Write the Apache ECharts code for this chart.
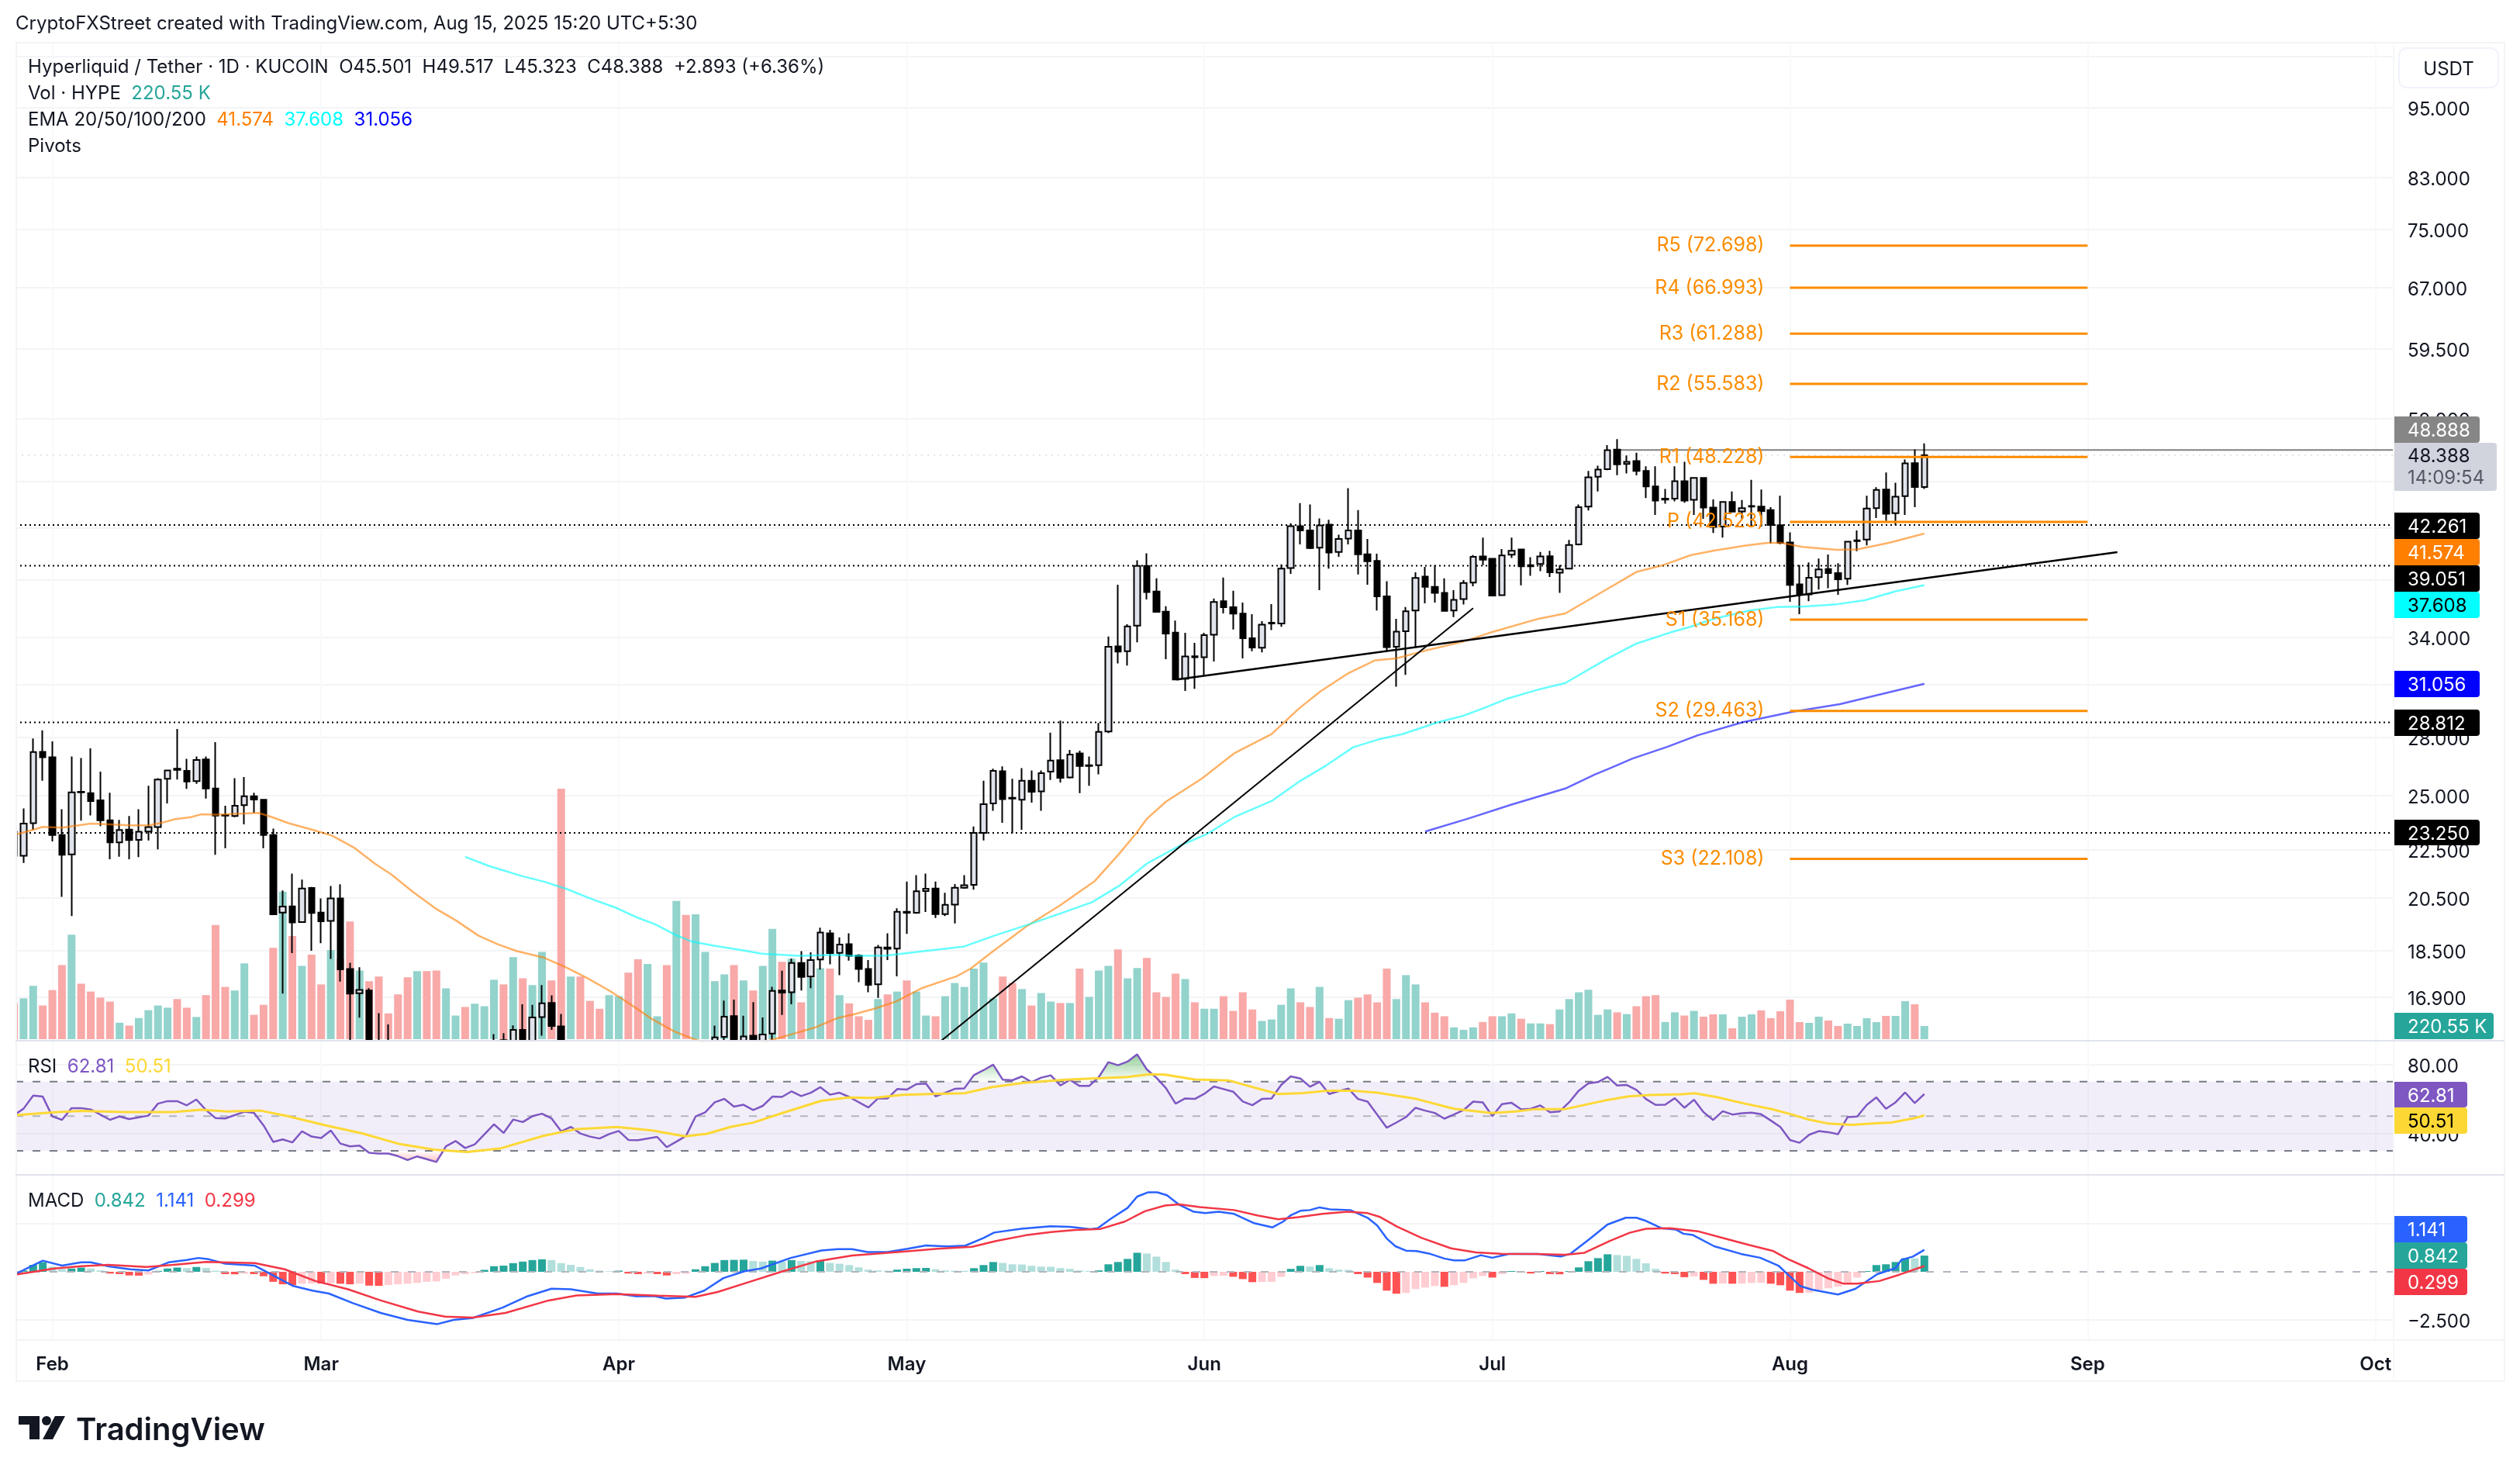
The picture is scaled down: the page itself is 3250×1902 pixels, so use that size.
<!DOCTYPE html>
<html>
<head>
<meta charset="utf-8">
<title>HYPE/USDT</title>
<script src="https://cdn.jsdelivr.net/npm/echarts@6/dist/echarts.min.js"></script>
<style>
html, body { margin: 0; padding: 0; background: #fff; }
#chart { width: 3250px; height: 1902px; }
</style>
</head>
<body>
<div id="chart"></div>
<script>
// day numbers count from Feb 1 2025 = 0, the first candle is Jan 28
const firstDay = -4;
const monthDays = [0, 28, 59, 89, 120, 150, 181, 212, 242];
const monthNames = ['Feb', 'Mar', 'Apr', 'May', 'Jun', 'Jul', 'Aug', 'Sep', 'Oct'];

const priceTicks = [105, 95, 83, 75, 67, 59.5, 52, 46, 42, 38, 34, 31, 28, 25, 22.5, 20.5, 18.5, 16.9];
const rsiTicks = [80, 40];
const macdTicks = [2.5, -2.5];

// open, close, low, high
const candles = [
  // Jan
  [23.31,22.24,22.2,23.4],[22.24,23.67,21.93,24.38],[23.69,27.2,23.39,27.93],[27.21,26.92,25.73,28.37],
  // Feb
  [26.92,23.15,22.87,27.77],[23.15,22.28,20.53,24.34],[22.3,25.15,19.78,26.97],[25.18,25.15,23.81,26.88],
  [25.11,24.73,24.05,27.39],[24.77,23.82,23.56,26.18],[23.82,22.82,22.09,25.13],[22.82,23.38,22.2,23.84],
  [23.4,22.93,22.09,24.02],[22.94,23.3,22.18,24.34],[23.31,23.51,22.91,25.48],[23.51,25.78,22.52,25.85],
  [25.82,26.24,24.62,26.27],[26.33,26.27,25.78,28.45],[26.22,25.69,25.32,26.84],[25.71,26.78,25.57,26.97],
  [26.81,25.34,24.85,26.97],[25.34,24.04,22.28,27.73],[24.07,24.04,22.57,24.51],[24.02,24.51,23.97,25.85],
  [24.53,24.96,23.64,25.91],[24.96,24.8,24.17,25.13],[24.79,23.15,22.57,24.82],[23.15,19.85,19.82,23.44],
  [19.92,20.15,17.02,20.79],[20.16,19.54,18.41,21.48],[19.55,20.87,19.54,21.23],[20.89,19.9,18.49,20.93],
  // Mar
  [19.92,19.58,18.77,20.47],[19.6,20.47,18.2,20.97],[20.47,17.84,17.42,21.04],[17.85,17.02,15.3,18.07],
  [17.03,17.14,16.24,17.91],[17.12,15.0,14.6,17.2],[15.2,14.5,14.0,16.38],[14.6,14.2,13.6,16.03],
  [14.2,13.0,12.6,14.5],[13.0,12.2,11.6,13.5],[12.2,13.2,11.9,13.6],[13.6,13.3,12.9,14.0],
  [13.6,13.2,13.0,14.1],[13.2,14.0,13.0,14.4],[13.7,14.0,13.4,14.4],[14.0,13.3,13.0,14.1],
  [13.3,14.1,13.2,14.5],[14.1,14.6,13.8,15.0],[14.6,15.2,14.4,15.73],[15.55,15.1,14.8,15.76],
  [15.1,15.86,14.9,16.0],[15.86,15.0,14.7,16.67],[15.0,16.25,14.9,16.65],[16.26,16.7,15.68,17.3],
  [16.71,15.98,15.86,16.96],[15.97,15.0,14.7,16.36],[15.0,15.3,14.6,15.4],[15.3,14.2,14.0,15.4],
  [14.2,13.7,13.5,14.5],[13.7,13.4,13.2,14.0],[13.4,13.9,13.2,14.2],
  // Apr
  [13.9,14.3,13.7,14.7],[14.3,13.8,13.5,14.8],[13.8,13.0,12.8,14.0],[13.0,13.6,12.7,13.9],
  [13.6,13.9,13.3,14.1],[13.9,12.6,12.3,14.0],[12.6,13.2,11.8,13.6],[13.2,12.4,12.2,13.7],
  [12.4,14.2,12.1,14.5],[14.2,14.8,14.0,15.2],[14.8,15.63,14.5,15.99],[15.65,16.27,15.5,16.79],
  [16.29,15.3,15.0,16.82],[15.3,15.66,15.1,16.3],[15.68,15.2,15.0,16.74],[15.2,15.72,15.1,16.25],
  [15.75,17.11,15.53,17.24],[17.12,17.05,16.33,17.79],[17.06,18.06,16.67,18.22],[18.06,17.58,17.12,18.48],
  [17.59,18.16,17.2,18.44],[18.18,19.16,17.83,19.34],[19.13,18.41,18.01,19.26],[18.42,18.72,17.64,18.98],
  [18.73,18.31,18.14,19.13],[18.32,17.85,17.4,18.37],[17.85,17.31,17.06,18.16],[17.33,18.61,16.88,18.7],
  [18.61,18.56,18.16,19.13],[18.57,19.95,17.6,20.08],
  // May
  [19.95,19.91,19.11,21.15],[19.91,20.76,19.87,21.42],[20.77,20.86,19.94,21.48],[20.87,19.86,19.71,21.15],
  [19.86,20.22,19.78,20.7],[20.23,20.9,19.5,21.05],[20.9,21.0,20.86,21.42],[21.02,23.25,20.82,23.54],
  [23.25,24.58,22.91,25.73],[24.62,26.22,24.27,26.33],[26.2,24.82,23.71,26.45],[24.89,24.85,23.23,25.82],
  [24.79,25.73,23.39,26.36],[25.73,25.18,24.65,26.24],[25.2,26.11,24.27,26.24],[26.18,26.75,25.76,28.24],
  [26.77,25.87,25.64,28.91],[25.89,27.07,25.84,27.31],[27.13,26.47,25.11,27.27],[26.47,26.51,25.48,26.97],
  [26.51,28.28,26.05,28.78],[28.31,33.37,28.22,34.04],[33.39,33.06,32.3,37.64],[33.08,34.71,32.17,34.86],
  [34.76,39.04,33.66,39.47],[39.04,37.1,36.58,40.0],[37.15,35.7,35.65,38.11],[35.72,34.23,32.57,36.1],
  [34.3,31.31,31.28,35.11],[31.36,32.74,30.62,34.28],[32.76,32.7,30.75,33.62],
  // Jun
  [32.7,34.13,31.53,34.28],[34.16,36.4,32.42,36.65],[36.45,36.03,35.6,38.16],[36.03,35.58,34.5,37.2],
  [35.58,33.92,32.62,36.35],[33.92,33.32,33.08,35.55],[33.3,34.83,33.0,35.06],[34.91,34.96,34.47,36.25],
  [34.91,38.83,34.68,39.15],[38.88,42.17,38.44,42.4],[42.17,41.82,40.71,44.1],[41.82,40.42,40.34,43.98],
  [40.45,42.23,37.25,42.8],[42.29,40.06,38.83,42.7],[40.11,41.14,39.73,41.47],[41.17,41.82,40.71,45.4],
  [41.82,39.93,38.39,43.5],[39.93,39.39,37.64,41.14],[39.42,36.8,35.8,39.98],[36.8,33.34,33.1,37.9],
  [33.37,34.36,30.88,35.23],[34.39,35.75,31.6,36.05],[35.8,38.14,33.34,38.55],[38.24,37.48,36.3,38.96],
  [37.48,37.05,36.35,39.1],[37.05,35.77,35.72,38.11],[35.8,36.55,35.35,37.25],[36.6,37.77,36.22,37.98],
  [37.8,39.73,37.53,39.87],[39.76,39.51,39.1,41.24],
  // Jul
  [39.59,36.85,36.8,39.65],[36.88,39.84,36.85,40.34],[39.9,40.2,39.65,41.24],[40.31,39.01,37.59,40.34],
  [39.01,39.1,38.3,39.7],[39.18,39.76,38.64,40.11],[39.78,38.55,38.21,40.2],[38.53,38.77,37.05,39.1],
  [38.83,40.65,38.8,41.05],[40.71,43.76,40.62,43.98],[43.8,46.36,43.47,46.94],[46.41,47.06,45.1,47.42],
  [47.11,48.87,47.02,49.36],[48.92,47.54,46.55,49.94],[47.59,47.78,46.72,48.37],[47.85,46.94,46.53,48.63],
  [46.94,45.55,44.53,47.37],[45.55,44.31,43.1,47.37],[44.4,44.49,44.05,45.32],[44.49,46.01,44.25,47.37],
  [46.01,44.31,44.14,47.78],[44.38,46.31,43.1,46.35],[46.31,43.72,42.78,46.35],[43.72,42.11,41.61,44.42],
  [42.13,44.2,41.24,44.27],[44.2,43.38,43.35,45.1],[43.4,43.67,42.78,44.36],[43.8,43.85,42.17,46.13],
  [43.8,43.42,42.13,45.28],[43.51,42.26,40.78,43.76],[42.24,40.82,40.72,44.74],
  // Aug
  [40.86,37.63,36.41,41.67],[37.66,36.91,35.55,39.11],[36.93,38.15,36.45,39.3],[38.19,38.77,37.29,39.6],
  [38.81,38.5,37.38,39.91],[38.5,38.04,36.91,39.24],[38.08,40.92,37.63,40.96],[40.96,41.02,40.17,41.82],
  [41.08,43.63,40.63,44.74],[43.67,45.25,42.84,45.48],[45.28,43.2,42.6,46.8],[43.24,44.65,42.24,45.88],
  [44.7,47.63,43.1,48.0],[47.66,45.5,43.76,48.95],[45.501,48.388,45.323,49.517]
];

// thousands of HYPE, one per candle
const volumes = [
  606,684,894,564,
  822,1242,1752,930,798,696,630,276,228,354,486,564,528,672,528,372,738,1914,876,816,1272,408,576,1530,2472,1728,1230,1416,
  918,1494,1350,1974,1152,972,1050,432,750,1038,1140,1140,1152,852,396,540,594,552,996,918,1374,1020,906,1464,984,4200,1050,1050,642,510,738,
  720,1116,1338,1260,384,1242,2316,2082,2094,1464,972,1086,1242,984,816,1230,1848,1296,1350,618,1026,1188,1182,738,600,384,324,672,750,798,
  984,798,396,384,720,942,876,1182,1284,684,1050,942,840,564,774,630,606,606,1182,708,1152,1230,1506,1020,1194,1362,786,708,1098,1008,618,
  510,510,720,474,786,498,306,330,576,852,618,540,876,354,342,654,696,750,618,1182,672,1074,918,618,444,384,198,156,198,288,
  384,384,432,342,264,264,252,498,672,786,828,408,498,450,420,552,720,738,288,450,396,474,377,416,416,182,377,416,481,351,468,
  663,286,273,377,312,221,260,221,351,286,390,390,637,585,220.55
];

// [day, value]
const emaOrange = [[-3.75,23.18],[-2,23.39],[-1,23.52],[1,23.49],[3,23.61],[4,23.67],[6,23.64],[8,23.59],[10,23.59],[11.5,23.72],[12.7,23.87],[14.4,23.97],[15.5,24.1],[17,24.09],[18.9,24.12],[21.5,24.17],[22.9,23.97],[24.6,23.69],[27.1,23.39],[29.1,23.13],[31.4,22.6],[33.6,21.9],[35.3,21.45],[37.6,20.72],[39.9,20.08],[42.1,19.6],[44.4,19.04],[46.4,18.73],[48.4,18.48],[51.2,18.25],[53.5,17.91],[55.7,17.54],[58,17.12],[60.3,16.65],[62.5,16.19],[64.8,15.81],[67,15.56],[71,15.2],[75,15.56],[77.3,15.75],[79.5,15.94],[81.8,16.23],[83.4,16.34],[85.7,16.53],[87.9,16.76],[90.5,17.19],[94.2,17.6],[95.6,17.85],[98,18.48],[101.5,19.4],[104.9,20.18],[108.6,21.18],[111.2,22.36],[112.9,23.23],[114,23.89],[116,24.7],[119.7,25.82],[123.1,27.13],[127,28.16],[129.9,29.62],[132.1,30.6],[135,31.7],[137.8,32.5],[140,32.62],[142.9,33.1],[146.9,33.69],[149.7,34.28],[154.8,35.23],[157.6,35.6],[161.9,37.3],[165,38.58],[167.8,39.1],[170.7,39.87],[173.2,40.23],[176.5,40.62],[178.7,40.83],[180.1,40.82],[182.3,40.51],[185.9,40.27],[188,40.31],[191.3,40.83],[195,41.574]];
const emaCyan = [[43,22.19],[45.5,21.8],[48.9,21.38],[51.2,21.15],[53.5,20.86],[56.3,20.43],[58.6,20.12],[61.1,19.7],[62.8,19.47],[64.8,19.09],[66.5,18.84],[68.8,18.68],[71.6,18.53],[73.9,18.39],[77.8,18.31],[81.8,18.35],[83.4,18.31],[86.8,18.32],[90.8,18.48],[95,18.65],[98.1,19.04],[101.5,19.44],[104.9,19.87],[108.3,20.32],[111.2,21],[114,21.9],[117.4,22.67],[120.2,23.18],[123.1,23.97],[127,24.73],[129.9,25.69],[132.7,26.5],[135.5,27.45],[138.1,27.87],[140.6,28.16],[144.3,28.81],[146.9,29.17],[149.1,29.62],[151.4,30.14],[154.8,30.71],[157.6,31.1],[161.9,32.58],[165,33.57],[168.4,34.28],[170.7,34.7],[173.2,35.25],[176.8,35.8],[179.7,36.05],[182.6,36.09],[185.9,36.24],[188.8,36.52],[192,37.16],[195,37.608]];
const emaBlue = [[143,23.31],[147.4,23.89],[152,24.56],[157.6,25.34],[160.6,26.02],[162.4,26.39],[164.6,26.86],[168.2,27.47],[171.4,28.1],[176.1,28.82],[179,29.15],[181.2,29.4],[186.2,29.85],[191.3,30.54],[195,31.056]];

const pivotNames = ['R5', 'R4', 'R3', 'R2', 'R1', 'P', 'S1', 'S2', 'S3'];
const pivotValues = [72.698, 66.993, 61.288, 55.583, 48.228, 42.523, 35.168, 29.463, 22.108];
const pivotSpan = [181, 212];

const dottedLevels = [42.261, 39.051, 28.812, 23.25];
const lastClose = 48.388;
const prevHigh = 48.888;
const prevHighFrom = 163;

const trendSteep = [[92.6, 15.53], [148, 35.96]];
const trendFlat = [[117.1, 31.31], [215.1, 40.09]];

const rsiLine = [[-4,50.6],[-3,54.35],[-2,61.94],[-1,61.3],[0,49.84],[1,47.9],[2,54.68],[3,54.68],[4,53.87],[6,47.9],[7,49.84],[8,48.39],[10,50.32],[11,57.26],[12,58.71],[13,58.71],[14,56.29],[15,59.68],[16,53.55],[17,48.87],[18,48.71],[20,52.58],[21,51.94],[22,44.68],[23,35.16],[24,36.61],[25,34.84],[26,41.29],[27,38.23],[28,37.42],[29,41.77],[30,34.19],[31,32.58],[32,33.06],[33,28.87],[34,28.39],[35,28.39],[36,26.94],[37,24.68],[38,26.77],[39,25.16],[40,23.55],[41,32.58],[42,35.65],[43,31.61],[44,33.71],[46,45.32],[47,40.32],[48,48.06],[49,46.61],[50,50],[51,51.45],[52,48.71],[53,41.29],[54,43.87],[55,40],[56,38.23],[57,37.1],[58,39.68],[59,41.45],[60,36.29],[61,36.13],[63,38.06],[64,32.1],[65,35.3],[66,38.55],[67,49.84],[68,52.26],[69,58.06],[70,60],[71,55.48],[72,56.61],[73,53.55],[74,55.97],[75,61.29],[76,61.13],[77,64.35],[78,61.61],[79,63.55],[80,66.77],[81,62.42],[82,63.55],[83,61.13],[85,55.02],[86,60.26],[87,60.26],[88,65.66],[89,65.36],[90,68.5],[91,68.8],[92,61.46],[93,63.56],[94,65.81],[95,66.1],[96,73.75],[97,76.59],[98,79.74],[99,71.05],[100,70.75],[101,73],[102,69.7],[103,72.25],[104,73.6],[105,67.75],[106,71.05],[107,67.45],[108,67.45],[109,72.55],[110,81.24],[111,79.44],[112,81.54],[113,85.73],[114,77.04],[115,72.25],[116,66.25],[117,57.27],[118,60.26],[119,59.96],[120,62.96],[121,67.15],[122,65.66],[123,64.16],[124,58.46],[125,56.37],[126,59.96],[127,60.26],[128,68.05],[129,73],[130,71.8],[131,67],[132,69.85],[133,62.81],[134,64.46],[135,65.96],[136,59.96],[137,58.46],[138,50.97],[139,43.33],[140,46.33],[141,49.48],[142,54.87],[143,53.22],[144,51.87],[145,48.58],[146,50.97],[147,53.52],[148,58.46],[149,58.01],[150,50.07],[151,56.97],[152,57.72],[153,53.97],[154,54.27],[155,56.22],[156,52.32],[157,52.77],[158,58.01],[159,64.76],[160,68.95],[161,69.7],[162,72.7],[163,67.75],[164,68.05],[165,65.21],[166,59.96],[167,56.52],[168,56.67],[169,60.41],[170,54.87],[171,59.51],[172,52.32],[173,47.83],[174,52.92],[175,50.97],[176,51.72],[177,52.02],[178,51.12],[179,47.53],[180,43.78],[181,36.29],[182,34.64],[183,39.29],[184,41.39],[185,40.79],[186,39.59],[187,49.48],[188,49.78],[189,56.52],[190,60.86],[191,54.27],[192,58.01],[193,63.71],[194,57.57],[195,62.81]];
const rsiAverage = [[-3.8,50.6],[0.2,52.26],[3,53.06],[7.5,52.42],[12.6,52.42],[15.5,53.71],[18.3,52.74],[21.7,53.23],[24.5,50],[28.5,44.68],[32.2,40.16],[36.2,33.87],[39.8,30.65],[43.2,29.35],[46.6,31.29],[51.2,38.71],[54.6,42.58],[58.8,43.71],[62.5,41.77],[65.9,38.39],[68.2,39.84],[70.7,43.87],[73,46.29],[76.1,51.94],[80.1,58.87],[82.9,60.81],[85.5,60.56],[88.6,62.36],[92.2,62.96],[95,63.26],[97.8,66.7],[101.2,69.25],[105.6,71.05],[109.2,71.95],[112,72.7],[114.3,74.19],[115.9,74.04],[119,71.2],[122.6,70.6],[124.6,67.45],[127.7,62.81],[130.3,63.41],[132.9,64.76],[135.4,64.76],[138,63.56],[142.1,59.96],[146,54.27],[149.9,51.87],[152.4,52.77],[154.5,54.12],[157.6,54.12],[161.7,59.06],[164.2,61.46],[166.4,62.21],[169.7,62.66],[171.1,63.26],[173.4,61.01],[176.3,57.27],[179.2,53.97],[181.2,50.97],[182.9,48.13],[185,45.73],[187.4,44.98],[189.9,45.88],[191.6,46.33],[194,48.88],[195,50.51]];

const macdLine = [[-3.8,-0.12],[-2.7,0.17],[-1,0.58],[1,0.32],[3,0.49],[4,0.49],[6,0.27],[8.1,0.13],[10,0.07],[12.1,0.49],[14,0.61],[15.2,0.72],[16.3,0.65],[18,0.42],[21.1,0.32],[23,-0.19],[25.1,-0.74],[27.1,-0.98],[28.8,-1.13],[31.3,-1.63],[34.2,-2.14],[37,-2.5],[40.1,-2.72],[41.8,-2.5],[43.8,-2.4],[46.1,-2],[46.9,-1.86],[49.5,-1.27],[52,-0.88],[54,-0.91],[56.8,-1.13],[58.8,-1.13],[60.8,-1.27],[62.8,-1.27],[63.9,-1.39],[65.9,-1.34],[67.9,-0.98],[69.9,-0.33],[72.1,0.03],[73.8,0.17],[76.9,0.72],[80.1,1.11],[81.8,1.18],[83.3,1.18],[84.9,1.03],[87,1.03],[89.1,1.2],[91,1.37],[93.2,1.32],[95.1,1.36],[97,1.76],[98.1,2.04],[100.9,2.24],[104,2.37],[106,2.34],[108.1,2.22],[108.9,2.27],[110.2,2.74],[112,3.32],[113,3.91],[114.1,4.13],[115.1,4.13],[116.1,3.98],[117.4,3.48],[118.9,3.12],[120.1,3.05],[121.5,3.12],[123.1,3.01],[125.1,2.54],[127.1,2.31],[128.2,2.61],[129,2.94],[130,3.17],[131,3.21],[132,3.35],[133.1,3.25],[135.2,3.21],[137,2.81],[138,2.41],[139,1.73],[139.9,1.33],[141,1.1],[142.1,1.08],[143.4,0.95],[145,0.69],[146,0.59],[147.1,0.59],[148.8,0.86],[150,0.73],[151.7,0.93],[154.8,0.93],[157.1,0.79],[158.1,0.93],[160.2,1.73],[162,2.46],[163.9,2.81],[165,2.81],[166,2.65],[167.6,2.27],[169.1,2.2],[169.9,1.98],[170.9,1.91],[173.1,1.33],[175.9,0.93],[177.9,0.73],[179.8,0.32],[180.8,-0.15],[182.1,-0.75],[183.3,-0.93],[186,-1.18],[187.8,-0.89],[190.1,-0.12],[192,0.19],[192.6,0.62],[193.8,0.79],[195,1.141]];
const macdSignal = [[-3.8,-0.14],[-2.1,-0.01],[0.2,0.17],[3,0.29],[5.8,0.36],[9.8,0.25],[12.6,0.36],[16,0.51],[21.1,0.45],[24.2,0.13],[27.4,-0.48],[30.8,-0.91],[34.2,-1.49],[38.1,-2.07],[40.9,-2.33],[43.8,-2.38],[47.2,-2.14],[51.7,-1.49],[54.6,-1.23],[58.8,-1.16],[63.1,-1.24],[67,-1.3],[69.3,-1.05],[72.7,-0.51],[76.1,0.03],[79.5,0.53],[83.3,0.85],[86.5,0.97],[89.6,1.09],[92.2,1.2],[95.8,1.3],[98.3,1.6],[101.4,1.9],[104,2.07],[106.6,2.18],[109.2,2.23],[111.7,2.61],[113.8,3.15],[115.9,3.45],[117.4,3.51],[119.5,3.37],[123.1,3.21],[125.6,2.92],[127.7,2.73],[129.8,2.84],[132.3,3.01],[134.9,3.12],[137,3.05],[138.3,2.85],[140.1,2.34],[142.6,1.77],[145.7,1.22],[148.3,1.01],[150.9,0.94],[154.5,0.93],[157.6,0.89],[159.6,0.99],[162.2,1.6],[164.3,2.03],[166,2.24],[168.5,2.27],[171.4,2.11],[174.2,1.73],[176.7,1.4],[179.2,1.09],[180.8,0.66],[182.9,0.19],[185,-0.35],[186.6,-0.62],[188,-0.62],[190.3,-0.48],[192.4,-0.15],[195,0.299]];
// one histogram bar per candle
const macdHist = [
  0.02,0.07,0.36,0.5,
  0.27,0.14,0.17,0.22,0.17,0.07,-0.09,-0.12,-0.19,-0.2,-0.14,0.05,0.17,0.22,0.19,0.25,0.2,0.06,-0.12,-0.13,-0.1,-0.12,-0.23,-0.52,-0.65,-0.69,-0.62,-0.61,
  -0.61,-0.6,-0.62,-0.65,-0.62,-0.72,-0.73,-0.69,-0.65,-0.62,-0.58,-0.52,-0.5,-0.36,-0.19,-0.12,-0.07,0.1,0.29,0.32,0.45,0.53,0.61,0.65,0.61,0.45,0.36,0.25,0.13,0.06,0.03,
  0.06,-0.09,-0.12,-0.09,-0.12,-0.19,-0.12,-0.1,0.13,0.29,0.46,0.61,0.62,0.63,0.56,0.53,0.58,0.53,0.61,0.56,0.55,0.58,0.46,0.42,0.35,0.23,0.11,0.07,0.06,0.11,
  0.16,0.19,0.2,0.13,0.07,0.06,0.05,0.19,0.35,0.51,0.46,0.39,0.38,0.31,0.27,0.26,0.19,0.15,0.07,0.04,0.07,0.39,0.51,0.67,0.99,0.95,0.79,0.51,0.11,-0.12,-0.32,-0.33,
  -0.22,-0.21,-0.26,-0.38,-0.54,-0.53,-0.52,-0.26,0.15,0.31,0.27,0.35,0.19,0.11,0.1,-0.12,-0.3,-0.58,-0.98,-1.14,-1.1,-0.9,-0.82,-0.74,-0.78,-0.7,-0.58,-0.34,-0.22,-0.3,
  -0.12,0.04,-0.04,-0.09,0.04,-0.12,-0.13,0.04,0.23,0.55,0.71,0.91,0.87,0.83,0.67,0.44,0.15,-0.09,-0.12,-0.28,-0.24,-0.42,-0.62,-0.61,-0.62,-0.61,-0.58,-0.57,-0.62,-0.7,-0.98,
  -1.1,-1.09,-0.94,-0.86,-0.78,-0.58,-0.3,0.04,0.35,0.39,0.51,0.71,0.7,0.842
];

const legendHead = 'Hyperliquid / Tether · 1D · KUCOIN  O45.501  H49.517  L45.323  C48.388  +2.893 (+6.36%)';
const creditLine = 'CryptoFXStreet created with TradingView.com, Aug 15, 2025 15:20 UTC+5:30';

const font = 'Inter';
const ink = '#131722';
const faint = '#f3f4f6';
const xMin = -3.84, xMax = 243.8;
const priceMin = 15.53, priceMax = 107.97;
const dayAt = i => firstDay + i;

// the candlestick series drops whole boxes but does not crop them, so hold them at the pane floor
const floorPrice = v => Math.max(v, priceMin);
const priceData = candles
  .map((c, i) => [dayAt(i), floorPrice(c[0]), floorPrice(c[1]), floorPrice(c[2]), floorPrice(c[3])])
  .filter(row => row[4] > priceMin);

// TradingView colours the volume and histogram bars from the candle and from the last bar
const volumeData = volumes.map((v, i) => ({
  value: [dayAt(i), v],
  itemStyle: { color: candles[i][1] >= candles[i][0] ? '#92d3cc' : '#f8a9a8' }
}));
const histData = macdHist.map((v, i) => {
  const prev = i ? macdHist[i - 1] : 0;
  let color;
  if (v >= 0) color = v >= prev ? '#26a69a' : '#b2dfdb';
  else color = v <= prev ? '#ff5252' : '#ffcdd2';
  return { value: [dayAt(i), v], itemStyle: { color } };
});

function plainLine(name, data, color, width, extra) {
  return Object.assign({
    name, type: 'line', data, symbol: 'none', silent: true, animation: false,
    lineStyle: { color, width }, z: 5
  }, extra);
}
function level(value, from, to, color, width, type, axes) {
  return plainLine('level ' + value, [[from, value], [to, value]], color, width, Object.assign({
    lineStyle: { color, width, type }, z: 3
  }, axes));
}

const series = [];

series.push({
  name: 'Vol', type: 'bar', xAxisIndex: 0, yAxisIndex: 1, data: volumeData,
  barWidth: 10, silent: true, animation: false, z: 1, clip: true
});
dottedLevels.forEach(v => series.push(level(v, xMin, xMax, '#000000', 2, [2, 4])));
series.push(level(lastClose, xMin, xMax, '#e4e5e9', 2, [2, 6]));
series.push(level(prevHigh, prevHighFrom, xMax, '#808080', 2, 'solid'));
series.push({
  name: 'Hyperliquid / Tether', type: 'candlestick', data: priceData, xAxisIndex: 0, yAxisIndex: 0,
  barWidth: 8, silent: true, animation: false, z: 4, clip: true,
  itemStyle: { color: '#e0e3eb', color0: '#000000', borderColor: '#000000', borderColor0: '#000000', borderWidth: 2 }
});
series.push(plainLine('EMA 50', emaOrange, 'rgba(255,127,0,0.6)', 2.5));
series.push(plainLine('EMA 100', emaCyan, 'rgba(0,255,255,0.6)', 2.5));
series.push(plainLine('EMA 200', emaBlue, 'rgba(0,0,255,0.6)', 2.5));
series.push(plainLine('trend steep', trendSteep, '#000000', 2));
series.push(plainLine('trend flat', trendFlat, '#000000', 2.5));

pivotValues.forEach((v, i) => {
  series.push(plainLine(pivotNames[i], [
    {
      value: [pivotSpan[0], v],
      label: {
        show: true, position: 'left', distance: 33, color: '#fb8c00', fontFamily: font, fontSize: 25,
        padding: [5, 0, 0, 0],
        formatter: pivotNames[i] + ' (' + v.toFixed(3) + ')'
      }
    },
    [pivotSpan[1], v]
  ], '#fb8c00', 3, { symbol: 'circle', symbolSize: 0, showSymbol: true, showAllSymbol: true, z: 6 }));
});

// RSI pane
const rsiAxes = { xAxisIndex: 1, yAxisIndex: 2 };
series.push(Object.assign(plainLine('RSI band', [[xMin, 70], [xMax, 70]], '#787b86', 2, {
  lineStyle: { color: '#787b86', width: 2, type: [10, 12] },
  markArea: { silent: true, itemStyle: { color: 'rgba(126,87,194,0.1)' }, data: [[{ yAxis: 70 }, { yAxis: 30 }]] },
  z: 2
}), rsiAxes));
series.push(level(50, xMin, xMax, '#b2b5be', 2, [10, 12], rsiAxes));
series.push(level(30, xMin, xMax, '#787b86', 2, [10, 12], rsiAxes));
series.push(plainLine('RSI overbought', rsiLine.map(p => [p[0], Math.max(p[1], 70)]), 'transparent', 0, Object.assign({
  areaStyle: {
    origin: 70, opacity: 1,
    color: new echarts.graphic.LinearGradient(0, 0, 0, 1, [{ offset: 0, color: 'rgba(76,175,80,0.6)' }, { offset: 1, color: 'rgba(76,175,80,0)' }])
  }, z: 3
}, rsiAxes)));
series.push(plainLine('RSI oversold', rsiLine.map(p => [p[0], Math.min(p[1], 30)]), 'transparent', 0, Object.assign({
  areaStyle: {
    origin: 30, opacity: 1,
    color: new echarts.graphic.LinearGradient(0, 0, 0, 1, [{ offset: 0, color: 'rgba(255,82,82,0)' }, { offset: 1, color: 'rgba(255,82,82,0.35)' }])
  }, z: 3
}, rsiAxes)));
series.push(plainLine('RSI', rsiLine, '#7e57c2', 2.5, rsiAxes));
series.push(plainLine('RSI MA', rsiAverage, '#fdd835', 3, rsiAxes));

// MACD pane
const macdAxes = { xAxisIndex: 2, yAxisIndex: 3 };
series.push(level(0, xMin, xMax, '#b2b5be', 2, [10, 12], macdAxes));
series.push(Object.assign({
  name: 'Histogram', type: 'bar', data: histData, barWidth: 10, silent: true, animation: false, z: 2
}, macdAxes));
series.push(plainLine('MACD', macdLine, '#2962ff', 2.5, macdAxes));
series.push(plainLine('Signal', macdSignal, '#f23645', 2.5, macdAxes));

function xAxis(gridIndex, withLabels) {
  return {
    type: 'value', gridIndex, min: xMin, max: xMax, position: 'bottom',
    axisLine: { show: false },
    axisTick: { show: false, customValues: monthDays },
    splitLine: { show: true, lineStyle: { color: '#f8f9fa', width: 2 } },
    axisLabel: withLabels ? {
      show: true, customValues: monthDays, margin: 21, color: ink, fontFamily: font, fontSize: 24, fontWeight: 600,
      formatter: v => monthNames[monthDays.indexOf(v)]
    } : { show: false }
  };
}
function yAxisLabels(ticks, digits) {
  return {
    show: true, customValues: ticks, margin: 19,
    // the rich padding pushes the figures a little below the grid line, as in the original
    formatter: v => '{v|' + (v < 0 ? '\u2212' : '') + Math.abs(v).toFixed(digits) + '}',
    rich: { v: { color: ink, fontFamily: font, fontSize: 24, padding: [6, 0, 0, 0] } }
  };
}
function yAxis(gridIndex, type, min, max, ticks, digits) {
  return {
    type, gridIndex, min, max, position: 'right', scale: true,
    axisLine: { show: false },
    axisTick: { show: false, customValues: ticks },
    splitLine: { show: true, lineStyle: { color: faint, width: 2 } },
    axisLabel: yAxisLabels(ticks, digits)
  };
}

function legend(top, left, text, rich) {
  return {
    text, left, top, padding: 0, itemGap: 0,
    textStyle: { color: ink, fontFamily: font, fontSize: 24, fontWeight: 400, rich }
  };
}
const richInk = color => ({ color, fontFamily: font, fontSize: 24 });

function tag(text, top, height, right, fill, color) {
  return [
    { type: 'rect', z: 50, shape: { x: 3088, y: top, width: right - 3088, height, r: [0, 4, 4, 0] }, style: { fill } },
    { type: 'text', z: 51, style: { x: 3105, y: top + height / 2 + 2, text, fill: color, font: '24px ' + font, textVerticalAlign: 'middle' } }
  ];
}
function rule(x, y, w, h, fill) {
  return { type: 'rect', z: 40, shape: { x, y, width: w, height: h }, style: { fill } };
}

const graphics = [
  // marks of the first day stop at the chart frame
  rule(0, 54, 20, 1673, '#ffffff'),
  rule(20, 54, 3210, 2, faint),
  rule(20, 54, 2, 1727, faint),
  rule(3229, 54, 2, 1727, faint),
  rule(20, 1780, 3210, 2, faint),
  rule(20, 1727, 3210, 2, faint),
  rule(3086, 54, 2, 1727, '#f6f7f8'),
  rule(20, 1341, 3210, 2, '#e0e3eb'),
  rule(20, 1514, 3210, 2, '#e0e3eb'),
  // currency button
  { type: 'rect', z: 50, shape: { x: 3094, y: 62, width: 128, height: 51, r: 10 }, style: { fill: '#ffffff', stroke: '#f0f3fa', lineWidth: 2 } },
  { type: 'text', z: 51, style: { x: 3158, y: 90, text: 'USDT', fill: ink, font: '24px ' + font, textAlign: 'center', textVerticalAlign: 'middle' } },
  ...tag('48.888', 537, 34, 3198, '#868686', '#ffffff'),
  // last price with the countdown
  { type: 'rect', z: 50, shape: { x: 3088, y: 571, width: 132, height: 62, r: [0, 4, 4, 0] }, style: { fill: '#d1d4dc' } },
  { type: 'text', z: 51, style: { x: 3105, y: 589, text: '48.388', fill: ink, font: '24px ' + font, textVerticalAlign: 'middle' } },
  { type: 'text', z: 51, style: { x: 3105, y: 617, text: '14:09:54', fill: '#555862', font: '24px ' + font, textVerticalAlign: 'middle' } },
  ...tag('42.261', 661, 34, 3198, '#000000', '#ffffff'),
  ...tag('41.574', 695, 34, 3198, '#ff7f00', '#ffffff'),
  ...tag('39.051', 729, 34, 3198, '#000000', '#ffffff'),
  ...tag('37.608', 763, 34, 3198, '#00ffff', '#000000'),
  ...tag('31.056', 865, 34, 3198, '#0000ff', '#ffffff'),
  ...tag('28.812', 915, 34, 3198, '#000000', '#ffffff'),
  ...tag('23.250', 1057, 33, 3198, '#000000', '#ffffff'),
  ...tag('220.55 K', 1306, 34, 3216, '#26a69a', '#ffffff'),
  ...tag('62.81', 1395, 33, 3182, '#7e57c2', '#ffffff'),
  ...tag('50.51', 1428, 34, 3182, '#fdd835', '#000000'),
  ...tag('1.141', 1568, 34, 3182, '#2962ff', '#ffffff'),
  ...tag('0.842', 1602, 34, 3182, '#26a69a', '#ffffff'),
  ...tag('0.299', 1636, 34, 3182, '#f23645', '#ffffff'),
  // TradingView mark
  { type: 'polygon', z: 50, shape: { points: [[24, 1826], [51, 1826], [51, 1856], [38, 1856], [38, 1837], [24, 1837]] }, style: { fill: '#131722' } },
  { type: 'circle', z: 50, shape: { cx: 60, cy: 1832, r: 6 }, style: { fill: '#131722' } },
  { type: 'polygon', z: 50, shape: { points: [[71, 1826], [84, 1826], [68, 1856], [55, 1856]] }, style: { fill: '#131722' } },
  { type: 'text', z: 50, style: { x: 98, y: 1845, text: 'TradingView', fill: '#131722', font: '600 40px ' + font, textVerticalAlign: 'middle' } }
];

const option = {
  animation: false,
  backgroundColor: '#ffffff',
  title: [
    legend(19, 20, creditLine),
    legend(75, 36, legendHead),
    legend(109, 36, 'Vol · HYPE  {v|220.55 K}', { v: richInk('#26a69a') }),
    legend(143, 36, 'EMA 20/50/100/200  {a|41.574}  {b|37.608}  {c|31.056}', { a: richInk('#ff7f00'), b: richInk('#00ffff'), c: richInk('#0000ff') }),
    legend(177, 36, 'Pivots'),
    legend(1364, 36, 'RSI  {a|62.81}  {b|50.51}', { a: richInk('#7e57c2'), b: richInk('#fdd835') }),
    legend(1537, 36, 'MACD  {a|0.842}  {b|1.141}  {c|0.299}', { a: richInk('#26a69a'), b: richInk('#2962ff'), c: richInk('#f23645') })
  ],
  grid: [
    { left: 20, right: 164, top: 54, height: 1288 },
    { left: 20, right: 164, top: 1342, height: 173 },
    { left: 20, right: 164, top: 1515, height: 212 }
  ],
  xAxis: [xAxis(0, false), xAxis(1, false), xAxis(2, true)],
  yAxis: [
    yAxis(0, 'log', priceMin, priceMax, priceTicks, 3),
    { type: 'value', gridIndex: 0, min: -26, max: 16718, show: false, splitLine: { show: false } },
    yAxis(1, 'value', 16.1, 93.6, rsiTicks, 2),
    yAxis(2, 'value', -3.51, 5.04, macdTicks, 3)
  ],
  series,
  graphic: graphics
};

const chart = echarts.init(document.getElementById('chart'));
chart.setOption(option);
</script>
</body>
</html>
